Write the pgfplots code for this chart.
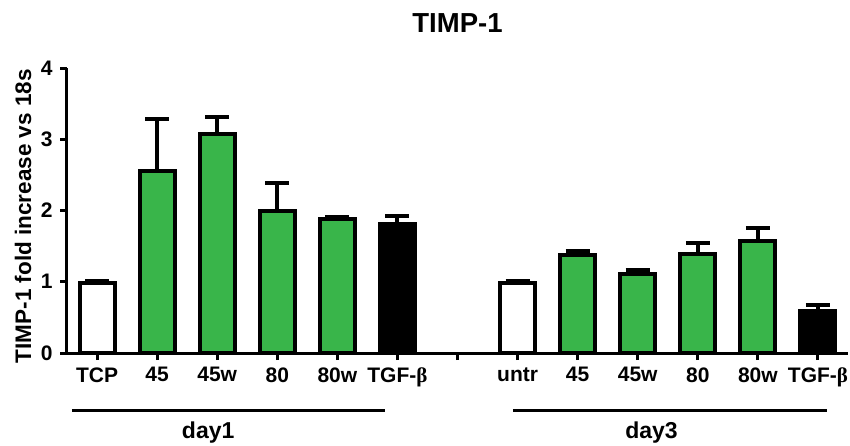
\documentclass[border=0pt]{standalone}
\usepackage{pgfplots}
\pgfplotsset{compat=1.18}
\usepackage{fontspec}
\setmainfont{Liberation Sans}
\newfontfamily\serif{Liberation Serif}
\definecolor{barGreen}{RGB}{57,181,74}
\begin{document}
\begin{tikzpicture}
\begin{axis}[
  scale only axis, width=781pt, height=285pt,
  xmin=-0.5, xmax=12.5, ymin=0, ymax=4,
  axis x line*=bottom, axis y line*=left,
  axis line style={line width=3pt, black},
  tick align=outside, major tick length=7pt,
  tick style={line width=3pt, black},
  xtick={0,...,12}, ytick={0,...,4},
  xticklabels={TCP,45,45w,80,80w,TGF-{\serif β},,untr,45,45w,80,80w,TGF-{\serif β}},
  /pgf/number format/assume math mode=true,
  tick label style={font=\bfseries\fontsize{21}{21}\selectfont},
  xticklabel style={yshift=-4pt},
  yticklabel style={xshift=-4pt},
  ylabel={TIMP-1 fold increase vs 18s},
  every axis y label/.style={at={(axis description cs:0,0.48)}, rotate=90, anchor=center, yshift=44pt, font=\bfseries\fontsize{22.5}{22.5}\selectfont},
  title={TIMP-1},
  title style={at={(axis description cs:0.5,1)}, anchor=center, yshift=39pt, font=\bfseries\fontsize{27.5}{27.5}\selectfont},
  clip=false,
  error bars/error bar style={line width=4pt, black},
  error bars/error mark options={rotate=90, line width=4pt, black, mark size=12pt},
]
\addplot[ybar, bar shift=0pt, bar width=35pt, draw=black, line width=4pt, fill=white,
  error bars/.cd, y dir=plus, y explicit]
  coordinates {(0,0.98) +- (0,0.03) (7,0.98) +- (0,0.03)};
\addplot[ybar, bar shift=0pt, bar width=35pt, draw=black, line width=4pt, fill=barGreen,
  error bars/.cd, y dir=plus, y explicit]
  coordinates {(1,2.55) +- (0,0.73) (2,3.08) +- (0,0.23) (3,1.99) +- (0,0.39) (4,1.88) +- (0,0.03)
               (8,1.37) +- (0,0.06) (9,1.11) +- (0,0.06) (10,1.39) +- (0,0.15) (11,1.57) +- (0,0.19)};
\addplot[ybar, bar shift=0pt, bar width=35pt, draw=black, line width=4pt, fill=black,
  error bars/.cd, y dir=plus, y explicit]
  coordinates {(5,1.81) +- (0,0.11) (12,0.59) +- (0,0.08)};
% group lines under the categories
\draw[line width=2.5pt] (axis cs:-0.42,-0.81) -- (axis cs:4.79,-0.81);
\draw[line width=2.5pt] (axis cs:6.92,-0.81) -- (axis cs:12.15,-0.81);
\node[font=\bfseries\fontsize{23}{23}\selectfont] at (axis cs:1.85,-1.12) {day1};
\node[font=\bfseries\fontsize{23}{23}\selectfont] at (axis cs:9.23,-1.12) {day3};
\end{axis}
\pgfresetboundingbox
\path[use as bounding box] (-67pt,-92pt) rectangle (783pt,353pt);
\end{tikzpicture}
\end{document}
